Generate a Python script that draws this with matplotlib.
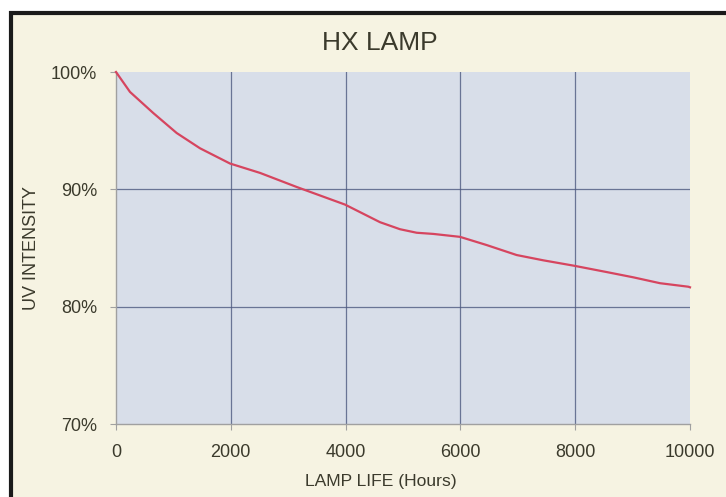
import numpy as np
import matplotlib.pyplot as plt
from matplotlib.patches import Rectangle
from matplotlib.ticker import FuncFormatter

plt.rcParams['font.family'] = ['Liberation Sans', 'DejaVu Sans']

# lamp life (hours) and UV intensity (%)
hours = [0, 244, 650, 1057, 1463, 1986, 2509, 3148, 3990, 4599, 4948,
         5238, 5528, 5993, 6458, 6980, 7444, 7967, 8548, 9013, 9477, 9971, 10000]
intensity = [100.0, 98.3, 96.5, 94.8, 93.5, 92.2, 91.4, 90.2, 88.7, 87.2, 86.6,
             86.3, 86.2, 85.95, 85.25, 84.4, 83.95, 83.5, 82.95, 82.5, 82.0, 81.7, 81.65]

x_ticks = [0, 2000, 4000, 6000, 8000, 10000]
y_ticks = [70, 80, 90, 100]

txt_col = '#3b3a2c'
grid_col = '#4e5a80'
W, H = 726, 497


def draw():
    fig = plt.figure(figsize=(W / 100, H / 100), dpi=100)
    fig.patch.set_facecolor('white')

    # cream panel with the black frame (cut off at right and bottom)
    fig.add_artist(Rectangle((10.5 / W, -0.05), 1.2, 1 - 12.5 / H + 0.05,
                             transform=fig.transFigure, fc='#f6f3e2',
                             ec='#1a1a1a', lw=3, zorder=-10))

    ax = fig.add_axes([116 / W, 1 - 424 / H, 574 / W, 352 / H])
    ax.set_facecolor('#d8dee9')

    ax.plot(hours, intensity, c='#d6455f', lw=1.6, zorder=3, clip_on=False)

    ax.set_xlim(0, 10000)
    ax.set_ylim(70, 100)
    ax.set_xticks(x_ticks)
    ax.set_yticks(y_ticks)
    ax.yaxis.set_major_formatter(FuncFormatter(lambda v, p: '%d%%' % v))

    for v in x_ticks[1:-1]:
        ax.axvline(v, c=grid_col, lw=0.9, alpha=0.8, zorder=1)
    for v in [80, 90]:
        ax.axhline(v, c=grid_col, lw=0.9, alpha=0.8, zorder=1)

    for s in ['top', 'right']:
        ax.spines[s].set_visible(False)
    for s in ['left', 'bottom']:
        ax.spines[s].set_color('#a0a0a0')
        ax.spines[s].set_linewidth(1.0)

    ax.tick_params(axis='both', colors='#a0a0a0', labelcolor=txt_col,
                   labelsize=13, length=4.5, width=0.8)
    ax.tick_params(axis='x', pad=10)
    ax.tick_params(axis='y', pad=9)

    fig.text(380 / W, 1 - 42.5 / H, 'HX LAMP', fontsize=19, color=txt_col,
             ha='center', va='center')
    fig.text(381 / W, 1 - 481.5 / H, 'LAMP LIFE (Hours)', fontsize=12.6,
             color=txt_col, ha='center', va='center')
    fig.text(32 / W, 1 - 248.5 / H, 'UV INTENSITY', fontsize=13, rotation=90,
             color=txt_col, ha='center', va='center')

    plt.savefig('out.png', dpi=100)


if __name__ == '__main__':
    draw()
